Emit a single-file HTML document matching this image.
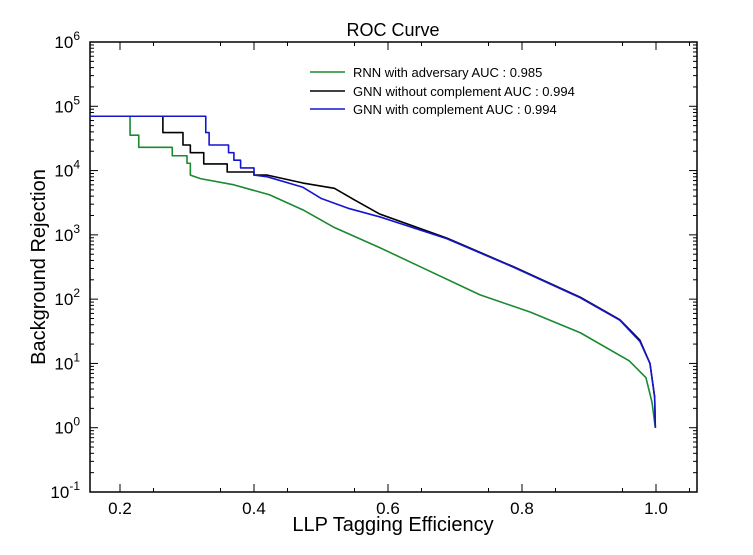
<!DOCTYPE html>
<html><head><meta charset="utf-8"><style>
body{margin:0;background:#fff;width:753px;height:550px;overflow:hidden}
svg{font-family:"Liberation Sans",sans-serif}
</style></head><body>
<svg width="753" height="550">
<rect x="90" y="42" width="607" height="450" fill="#fff" stroke="#000" stroke-width="1.5"/>
<g id="axes"></g>
<g id="series"></g>
<text x="393" y="36" text-anchor="middle" font-size="18">ROC Curve</text>
<text x="393" y="531" text-anchor="middle" font-size="20">LLP Tagging Efficiency</text>
<text transform="translate(45,267) rotate(-90)" text-anchor="middle" font-size="20">Background Rejection</text>
<g font-size="13">
<line x1="310" y1="72" x2="345" y2="72" stroke="#1a8a2e" stroke-width="1.5"/><text x="353" y="77">RNN with adversary AUC : 0.985</text>
<line x1="310" y1="91" x2="345" y2="91" stroke="#000" stroke-width="1.5"/><text x="353" y="96">GNN without complement AUC : 0.994</text>
<line x1="310" y1="109" x2="345" y2="109" stroke="#1515d0" stroke-width="1.5"/><text x="353" y="114">GNN with complement AUC : 0.994</text>
</g>
</svg>
<script>
const xTicks=[0.2,0.4,0.6,0.8,1.0];
const xTickLabels=["0.2","0.4","0.6","0.8","1.0"];
const yExps=[-1,0,1,2,3,4,5,6];
const rnnX=[0.155,0.215,0.228,0.278,0.30,0.305,0.32,0.37,0.423,0.473,0.52,0.588,0.648,0.737,0.812,0.887,0.96,0.985,0.994,0.999];
const rnnY=[7e4,3.55e4,2.3e4,1.7e4,1.3e4,8.5e3,7.5e3,6e3,4.2e3,2.45e3,1.3e3,630,320,117,63,30,11,6,2.5,1];
const gnnNoX=[0.155,0.264,0.294,0.305,0.325,0.36,0.40,0.42,0.473,0.52,0.55,0.588,0.688,0.787,0.887,0.946,0.976,0.991,0.998,0.999];
const gnnNoY=[7e4,3.9e4,2.5e4,1.9e4,1.27e4,9.5e3,8.5e3,8.5e3,6.4e3,5.3e3,3.5e3,2.1e3,890,320,107,48,23,10,3,1];
const gnnX=[0.155,0.328,0.333,0.362,0.37,0.38,0.40,0.42,0.473,0.50,0.54,0.588,0.688,0.787,0.887,0.946,0.976,0.991,0.998,0.999];
const gnnY=[7e4,3.9e4,2.5e4,1.9e4,1.45e4,1.1e4,8.5e3,8e3,5.5e3,3.7e3,2.6e3,1.9e3,870,315,105,47,22,10,3,1];
const L=90,R=697,T=42,B=492;
const xs=v=>120+(v-0.2)*670;
const ys=v=>T+(6-Math.log10(v))*(B-T)/7;
const NS="http://www.w3.org/2000/svg";
const ax=document.getElementById('axes');
function mk(tag,attrs,parent){const e=document.createElementNS(NS,tag);for(const k in attrs)e.setAttribute(k,attrs[k]);parent.appendChild(e);return e;}
xTicks.forEach((t,i)=>{
 const x=xs(t);
 const tl=mk('line',{x1:x,x2:x,y1:B,y2:B-8,stroke:'#000'},ax);
 
 
 mk('line',{x1:x,x2:x,y1:T,y2:T+8,stroke:'#000'},ax);
 const tx=mk('text',{x:x,y:B+22,'text-anchor':'middle','font-size':17},ax);
 tx.textContent=xTickLabels[i];
 
 
});
for(let v=0.25;v<1.06;v+=0.1){const x=xs(v);mk('line',{x1:x,x2:x,y1:B,y2:B-4,stroke:'#000'},ax);mk('line',{x1:x,x2:x,y1:T,y2:T+4,stroke:'#000'},ax);}
yExps.forEach(e=>{
 const y=ys(Math.pow(10,e));
 mk('line',{x1:L,x2:L+8,y1:y,y2:y,stroke:'#000'},ax);
 mk('line',{x1:R,x2:R-8,y1:y,y2:y,stroke:'#000'},ax);
 const tx=mk('text',{x:L-10,y:y+6,'text-anchor':'end','font-size':17},ax);
 tx.textContent='10';
 
 
 const s=mk('tspan',{dy:-8,'font-size':12},tx);s.textContent=String(e);
 if(e<6)for(let m=2;m<10;m++){const yy=ys(m*Math.pow(10,e));mk('line',{x1:L,x2:L+4,y1:yy,y2:yy,stroke:'#000'},ax);mk('line',{x1:R,x2:R-4,y1:yy,y2:yy,stroke:'#000'},ax);}
});
const sg=document.getElementById('series');
function draw(X,Y,color,name,stepEnd){
 let d='M'+xs(X[0])+','+ys(Y[0]);
 for(let i=1;i<X.length;i++){
  if(X[i]>stepEnd){d+=' L'+xs(X[i])+','+ys(Y[i]);}
  else{d+=' H'+xs(X[i])+' V'+ys(Y[i]);}
 }
 const p=mk('path',{d:d,fill:'none',stroke:color,'stroke-width':1.6,'stroke-linejoin':'round'},sg);
 
 
}
draw(rnnX,rnnY,'#1a8a2e','rnn-curve',0.31);
draw(gnnNoX,gnnNoY,'#000','gnn-without-complement-curve',0.405);
draw(gnnX,gnnY,'#1515d0','gnn-with-complement-curve',0.405);
</script>
</body></html>
